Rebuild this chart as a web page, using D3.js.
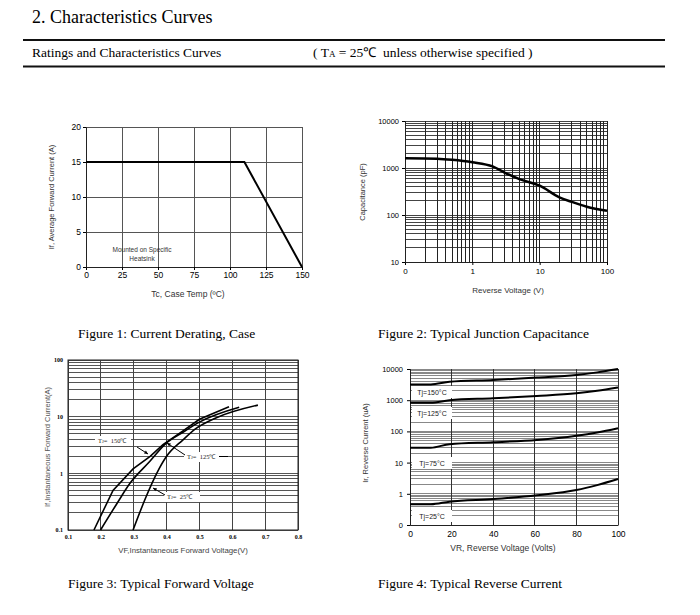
<!DOCTYPE html>
<html>
<head>
<meta charset="utf-8">
<script src="https://cdn.jsdelivr.net/npm/d3@7"></script>
<style>
  body { margin: 0; background: #fff; }
  .serif { font-family: "Liberation Serif", "Times New Roman", serif; }
  .sans { font-family: "Liberation Sans", Arial, sans-serif; }
  .grid line { shape-rendering: crispEdges; }
</style>
</head>
<body>
<div id="page"></div>
<script>
// ---- data ----
// Figure 1: current derating
var derateTemp = [0, 110, 150];
var derateCurrent = [15, 15, 0];
var fig1XTicks = [0, 25, 50, 75, 100, 125, 150];
var fig1YTicks = [0, 5, 10, 15, 20];

// Figure 2: junction capacitance
var capVolt = [0.1, 0.3, 0.5, 1, 2, 3, 5, 10, 20, 30, 50, 100];
var capPf = [1620, 1580, 1500, 1330, 1080, 800, 580, 420, 235, 190, 150, 123];
var fig2XTicks = [0.1, 1, 10, 100];
var fig2XLabels = ["0", "1", "10", "100"];
var fig2YTicks = [10, 100, 1000, 10000];

// Figure 3: forward voltage
var vf150 = [0.179, 0.237, 0.298, 0.35, 0.389, 0.45, 0.5, 0.59];
var if150 = [0.1, 0.5, 1.2, 2.0, 3.2, 5.6, 9.0, 15];
var vf125 = [0.199, 0.25, 0.288, 0.35, 0.399, 0.45, 0.5, 0.621];
var if125 = [0.1, 0.3, 0.66, 1.65, 3.4, 5.3, 8.0, 14.6];
var vf25 = [0.298, 0.338, 0.37, 0.399, 0.45, 0.49, 0.55, 0.678];
var if25 = [0.1, 0.39, 1.0, 1.96, 3.9, 6.2, 9.5, 16];
var fig3XTicks = [0.1, 0.2, 0.3, 0.4, 0.5, 0.6, 0.7, 0.8];
var fig3YTicks = [0.1, 1, 10, 100];

// Figure 4: reverse current
var vr = [0, 10, 19, 40, 61, 80, 90, 100];
var ir150 = [3200, 3200, 3900, 4450, 5300, 6400, 7800, 10000];
var ir125 = [830, 830, 1000, 1150, 1360, 1660, 2000, 2570];
var ir75 = [30, 30, 39, 45, 53, 72, 92, 126];
var ir25 = [0.46, 0.46, 0.56, 0.68, 0.9, 1.32, 1.9, 2.97];
var fig4XTicks = [0, 20, 40, 60, 80, 100];
var fig4YTicks = [0.1, 1, 10, 100, 1000, 10000];
var fig4YLabels = ["0", "1", "10", "100", "1000", "10000"];

var captions = ["Figure 1: Current Derating, Case", "Figure 2: Typical Junction Capacitance",
                "Figure 3: Typical Forward Voltage", "Figure 4: Typical Reverse Current"];

var svg = d3.select("#page")
  .append("svg")
    .attr("width", 700)
    .attr("height", 615);

// header
svg.append("text").attr("class", "serif")
  .attr("x", 32).attr("y", 23).attr("font-size", 18)
  .text("2. Characteristics Curves");
[40, 66.5].forEach(function(yy) {
  svg.append("line").attr("x1", 23).attr("x2", 665).attr("y1", yy).attr("y2", yy)
    .attr("stroke", "#111").attr("stroke-width", 2);
});
svg.append("text").attr("class", "serif")
  .attr("x", 32).attr("y", 57).attr("font-size", 13.5)
  .text("Ratings and Characteristics Curves");
var ta = svg.append("text").attr("class", "serif")
  .attr("x", 313).attr("y", 57).attr("font-size", 13.5);
ta.append("tspan").text("( T");
ta.append("tspan").attr("font-size", 9).text("A");
ta.append("tspan").text(" = 25\u2103\u00a0\u00a0unless otherwise specified )");

// captions
var capPos = [[78, 338], [378, 338], [68, 588], [378, 588]];
svg.selectAll(".caption")
  .data(captions)
  .enter()
  .append("text")
    .attr("class", "serif caption")
    .attr("x", function(d, i) { return capPos[i][0]; })
    .attr("y", function(d, i) { return capPos[i][1]; })
    .attr("font-size", 13.5)
    .text(function(d) { return d; });

// minor ticks for log scales
function logMinor(lo, hi) {
  var out = [];
  for (var k = Math.round(Math.log10(lo)); k < Math.round(Math.log10(hi)); k++) {
    for (var m = 1; m <= 9; m++) out.push(m * Math.pow(10, k));
  }
  out.push(hi);
  return out;
}

function zip(xs, ys) {
  return xs.map(function(v, i) { return [v, ys[i]]; });
}

// ---------------- Figure 1 ----------------
var x1 = d3.scaleLinear().domain([0, 150]).range([86, 302]);
var y1 = d3.scaleLinear().domain([0, 20]).range([267, 127]);
var g1 = svg.append("g").attr("class", "sans");
var gr1 = g1.append("g").attr("class", "grid");

gr1.selectAll(".vg").data(fig1XTicks).enter().append("line")
  .attr("x1", x1).attr("x2", x1).attr("y1", y1(0)).attr("y2", y1(20))
  .attr("stroke", "#555").attr("stroke-width", 1);
gr1.selectAll(".hg").data(fig1YTicks).enter().append("line")
  .attr("x1", x1(0)).attr("x2", x1(150)).attr("y1", y1).attr("y2", y1)
  .attr("stroke", "#555").attr("stroke-width", 1);

g1.append("g").attr("transform", "translate(0," + y1(0) + ")")
  .call(d3.axisBottom(x1).tickValues(fig1XTicks).tickSize(3).tickPadding(2))
  .call(function(a) { a.select(".domain").attr("stroke", "#222"); a.selectAll("text").attr("font-size", 8.5).attr("font-family", "Liberation Sans"); });
g1.append("g").attr("transform", "translate(" + x1(0) + ",0)")
  .call(d3.axisLeft(y1).tickValues(fig1YTicks).tickSize(3).tickPadding(2))
  .call(function(a) { a.select(".domain").attr("stroke", "#222"); a.selectAll("text").attr("font-size", 8.5).attr("font-family", "Liberation Sans"); });

g1.append("path")
  .datum(zip(derateTemp, derateCurrent))
  .attr("fill", "none").attr("stroke", "#000").attr("stroke-width", 2)
  .attr("d", d3.line().x(function(d) { return x1(d[0]); }).y(function(d) { return y1(d[1]); }));

g1.append("text").attr("x", 142).attr("y", 252).attr("text-anchor", "middle")
  .attr("font-size", 6.5).attr("fill", "#333").text("Mounted on Specific");
g1.append("text").attr("x", 142).attr("y", 261).attr("text-anchor", "middle")
  .attr("font-size", 6.5).attr("fill", "#333").text("Heatsink");
g1.append("text").attr("transform", "translate(54,197) rotate(-90)").attr("text-anchor", "middle")
  .attr("font-size", 7.5).attr("fill", "#333").text("If, Average Forward Current (A)");
g1.append("text").attr("x", 188).attr("y", 297).attr("text-anchor", "middle")
  .attr("font-size", 8.5).attr("fill", "#333").text("Tc, Case Temp (\u00baC)");

// ---------------- Figure 2 ----------------
var x2 = d3.scaleLog().domain([0.1, 100]).range([405, 607]);
var y2 = d3.scaleLog().domain([10, 10000]).range([262, 121]);
var g2 = svg.append("g").attr("class", "sans");
var gr2 = g2.append("g").attr("class", "grid");

gr2.selectAll(".hg").data(logMinor(10, 10000)).enter().append("line")
  .attr("x1", x2(0.1)).attr("x2", x2(100))
  .attr("y1", function(d) { return y2(d); }).attr("y2", function(d) { return y2(d); })
  .attr("stroke", "#444").attr("stroke-width", 1);
gr2.selectAll(".vg").data(logMinor(0.1, 100)).enter().append("line")
  .attr("x1", function(d) { return x2(d); }).attr("x2", function(d) { return x2(d); })
  .attr("y1", y2(10)).attr("y2", y2(10000))
  .attr("stroke", "#222").attr("stroke-width", 1);

g2.append("g").attr("transform", "translate(0," + y2(10) + ")")
  .call(d3.axisBottom(x2).tickValues(fig2XTicks).tickSize(3).tickPadding(3)
    .tickFormat(function(d, i) { return fig2XLabels[i]; }))
  .call(function(a) { a.select(".domain").attr("stroke", "#222"); a.selectAll("text").attr("font-size", 8).attr("font-family", "Liberation Sans"); });
g2.append("g").attr("transform", "translate(" + x2(0.1) + ",0)")
  .call(d3.axisLeft(y2).tickValues(fig2YTicks).tickSize(3).tickPadding(3).tickFormat(d3.format("d")))
  .call(function(a) { a.select(".domain").attr("stroke", "#222"); a.selectAll("text").attr("font-size", 7.5).attr("font-family", "Liberation Sans"); });

g2.append("path")
  .datum(zip(capVolt, capPf))
  .attr("fill", "none").attr("stroke", "#000").attr("stroke-width", 2.5)
  .attr("d", d3.line().curve(d3.curveMonotoneX)
    .x(function(d) { return x2(d[0]); }).y(function(d) { return y2(d[1]); }));

g2.append("text").attr("transform", "translate(365,192) rotate(-90)").attr("text-anchor", "middle")
  .attr("font-size", 7.5).attr("fill", "#333").text("Capacitance (pF)");
g2.append("text").attr("x", 508).attr("y", 293).attr("text-anchor", "middle")
  .attr("font-size", 8).attr("fill", "#333").text("Reverse Voltage (V)");

// ---------------- Figure 3 ----------------
var x3 = d3.scaleLinear().domain([0.1, 0.8]).range([68, 298]);
var y3 = d3.scaleLog().domain([0.1, 100]).range([530, 360]);
var g3 = svg.append("g").attr("class", "sans");
var gr3 = g3.append("g").attr("class", "grid");

gr3.selectAll(".hg").data(logMinor(0.1, 100)).enter().append("line")
  .attr("x1", x3(0.1)).attr("x2", x3(0.8))
  .attr("y1", function(d) { return y3(d); }).attr("y2", function(d) { return y3(d); })
  .attr("stroke", "#555").attr("stroke-width", 1);
gr3.selectAll(".vg").data(fig3XTicks).enter().append("line")
  .attr("x1", function(d) { return x3(d); }).attr("x2", function(d) { return x3(d); })
  .attr("y1", y3(0.1)).attr("y2", y3(100))
  .attr("stroke", "#444").attr("stroke-width", 1);
g3.append("rect").attr("x", x3(0.1)).attr("y", y3(100))
  .attr("width", x3(0.8) - x3(0.1)).attr("height", y3(0.1) - y3(100))
  .attr("fill", "none").attr("stroke", "#222").attr("stroke-width", 1);

g3.append("g").attr("transform", "translate(0," + y3(0.1) + ")")
  .call(d3.axisBottom(x3).tickValues(fig3XTicks).tickSize(0).tickPadding(5).tickFormat(d3.format(".1f")))
  .call(function(a) { a.select(".domain").remove(); a.selectAll("text").attr("font-size", 6).attr("font-weight", "bold").attr("font-family", "Liberation Serif"); });
g3.append("g").attr("transform", "translate(" + x3(0.1) + ",0)")
  .call(d3.axisLeft(y3).tickValues(fig3YTicks).tickSize(0).tickPadding(5).tickFormat(function(d) { return d < 1 ? "0.1" : d3.format("d")(d); }))
  .call(function(a) { a.select(".domain").remove(); a.selectAll("text").attr("font-size", 6).attr("font-weight", "bold").attr("font-family", "Liberation Serif"); });

var line3 = d3.line().x(function(d) { return x3(d[0]); }).y(function(d) { return y3(d[1]); });
var line3s = d3.line().curve(d3.curveMonotoneX).x(function(d) { return x3(d[0]); }).y(function(d) { return y3(d[1]); });
[zip(vf150, if150), zip(vf125, if125), zip(vf25, if25)].forEach(function(pts, i) {
  g3.append("path").datum(pts)
    .attr("fill", "none").attr("stroke", "#000").attr("stroke-width", 1.6)
    .attr("d", i === 0 ? line3 : line3s);
});

// curve labels with leader arrows
var fig3Labels = [
  {t: "150\u2103", x: 98, y: 443, ax: [137, 447, 148, 454]},
  {t: "125\u2103", x: 187, y: 459, ax: [185, 455, 167, 443]},
  {t: "25\u2103", x: 167, y: 499, ax: [165, 495, 153, 488]}
];
fig3Labels.forEach(function(l) {
  g3.append("rect").attr("x", l.x - 3).attr("y", l.y - 7).attr("width", 36).attr("height", 10).attr("fill", "#fff");
  var t = g3.append("text").attr("class", "serif").attr("x", l.x).attr("y", l.y).attr("font-size", 6.5).attr("fill", "#222");
  t.append("tspan").text("T");
  t.append("tspan").attr("font-size", 4.5).text("J");
  t.append("tspan").text("=\u00a0\u00a0" + l.t);
  g3.append("line").attr("x1", l.ax[0]).attr("y1", l.ax[1]).attr("x2", l.ax[2]).attr("y2", l.ax[3])
    .attr("stroke", "#000").attr("stroke-width", 1);
  var ang = Math.atan2(l.ax[3] - l.ax[1], l.ax[2] - l.ax[0]);
  var hx = l.ax[2], hy = l.ax[3];
  g3.append("path")
    .attr("d", "M" + hx + "," + hy +
      "L" + (hx - 4 * Math.cos(ang - 0.45)) + "," + (hy - 4 * Math.sin(ang - 0.45)) +
      "L" + (hx - 4 * Math.cos(ang + 0.45)) + "," + (hy - 4 * Math.sin(ang + 0.45)) + "Z")
    .attr("fill", "#000");
});
g3.append("line").attr("x1", 219).attr("x2", 228).attr("y1", 456.5).attr("y2", 456.5).attr("stroke", "#000");

g3.append("text").attr("transform", "translate(50,447) rotate(-90)").attr("text-anchor", "middle")
  .attr("font-size", 7.5).attr("fill", "#555").text("If,Instantaneous Forward Current(A)");
g3.append("text").attr("x", 183).attr("y", 553).attr("text-anchor", "middle")
  .attr("font-size", 7.8).attr("fill", "#444").text("VF,Instantaneous Forward Voltage(V)");

// ---------------- Figure 4 ----------------
var x4 = d3.scaleLinear().domain([0, 100]).range([410, 618]);
var y4 = d3.scaleLog().domain([0.1, 10000]).range([525, 369]);
var g4 = svg.append("g").attr("class", "sans");
var gr4 = g4.append("g").attr("class", "grid");

gr4.selectAll(".hg").data(logMinor(0.1, 10000)).enter().append("line")
  .attr("x1", x4(0)).attr("x2", x4(100))
  .attr("y1", function(d) { return y4(d); }).attr("y2", function(d) { return y4(d); })
  .attr("stroke", "#888").attr("stroke-width", 1);
gr4.selectAll(".vg").data(fig4XTicks).enter().append("line")
  .attr("x1", function(d) { return x4(d); }).attr("x2", function(d) { return x4(d); })
  .attr("y1", y4(0.1)).attr("y2", y4(10000))
  .attr("stroke", "#333").attr("stroke-width", 1);

g4.append("g").attr("transform", "translate(0," + y4(0.1) + ")")
  .call(d3.axisBottom(x4).tickValues(fig4XTicks).tickSize(0).tickPadding(6))
  .call(function(a) { a.select(".domain").attr("stroke", "#222"); a.selectAll("text").attr("font-size", 8.5).attr("font-family", "Liberation Sans"); });
g4.append("g").attr("transform", "translate(" + x4(0) + ",0)")
  .call(d3.axisLeft(y4).tickValues(fig4YTicks).tickSize(3).tickPadding(4)
    .tickFormat(function(d, i) { return fig4YLabels[i]; }))
  .call(function(a) { a.select(".domain").attr("stroke", "#222"); a.selectAll("text").attr("font-size", 7.5).attr("font-family", "Liberation Sans"); });

var fig4Labels = [
  {t: "Tj=150\u00b0C", y: 393},
  {t: "Tj=125\u00b0C", y: 414},
  {t: "Tj=75\u00b0C", y: 464},
  {t: "Tj=25\u00b0C", y: 517}
];
fig4Labels.forEach(function(l) {
  g4.append("rect").attr("x", 412).attr("y", l.y - 7).attr("width", 40).attr("height", 12).attr("fill", "#fff");
  g4.append("text").attr("x", 432).attr("y", l.y + 2).attr("text-anchor", "middle")
    .attr("font-size", 7).attr("fill", "#222").text(l.t);
});

var line4 = d3.line().curve(d3.curveMonotoneX)
  .x(function(d) { return x4(d[0]); }).y(function(d) { return y4(d[1]); });
[ir150, ir125, ir75, ir25].forEach(function(vals) {
  g4.append("path").datum(zip(vr, vals))
    .attr("fill", "none").attr("stroke", "#000").attr("stroke-width", 2)
    .attr("d", line4);
});

g4.append("text").attr("transform", "translate(368,443) rotate(-90)").attr("text-anchor", "middle")
  .attr("font-size", 7.5).attr("fill", "#333").text("Ir, Reverse Current (uA)");
g4.append("text").attr("x", 503).attr("y", 551).attr("text-anchor", "middle")
  .attr("font-size", 8.5).attr("fill", "#333").text("VR, Reverse Voltage (Volts)");
</script>
</body>
</html>
